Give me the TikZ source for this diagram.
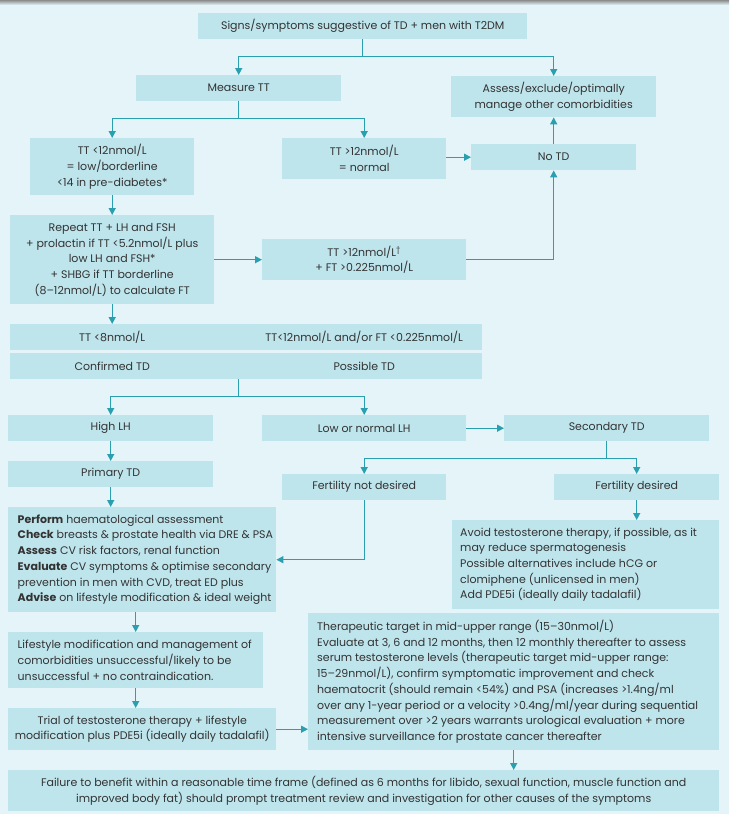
\documentclass[tikz,border=0pt]{standalone}
\usepackage{fontspec}
\setmainfont{Poppins}
\usetikzlibrary{arrows.meta,calc}
\definecolor{bgc}{HTML}{E4F4F8}
\definecolor{boxc}{HTML}{BEE4EC}
\definecolor{lnc}{HTML}{2A9FB0}
\definecolor{txtc}{HTML}{333333}
\newcommand{\bxfont}{\fontsize{11}{15.7}\selectfont}
\begin{document}
\begin{tikzpicture}[x=1pt,y=-1pt,
  box/.style={fill=boxc, draw=none, anchor=north west, inner sep=0pt, font=\bxfont, text=txtc, align=center},
  lt/.style={anchor=west, inner sep=0pt, font=\bxfont, text=txtc, align=left},
  ct/.style={inner sep=0pt, font=\bxfont, text=txtc, align=center},
  conn/.style={draw=lnc, line width=1.4pt},
  arr/.style={conn, -{Triangle[length=7pt,width=7pt]}}]
\useasboundingbox (0,0) rectangle (729,814);
\fill[bgc] (0,0) rectangle (729,814);
\shade[top color=black!45, bottom color=bgc] (0,0) rectangle (729,5);

% boxes
\node[box, minimum width=329, minimum height=26] (top) at (198,13) {Signs/symptoms suggestive of TD + men with T2DM};
\node[box, minimum width=205, minimum height=26] (measure) at (136,75) {Measure TT};
\node[box, minimum width=205, minimum height=41] (assess) at (451,76) {Assess/exclude/optimally\\manage other comorbidities};
\node[box, minimum width=164, minimum height=57] (tt12) at (30,138) {TT <12nmol/L\\= low/borderline\\<14 in pre-diabetes*};
\node[box, minimum width=164, minimum height=41] (ttnorm) at (282,138) {TT >12nmol/L\\= normal};
\node[box, minimum width=165, minimum height=26] (notd) at (471,144) {No TD};
\node[box, minimum width=204, minimum height=89] (repeat) at (10,215) {Repeat TT + LH and FSH\\+ prolactin if TT <5.2nmol/L plus\\low LH and FSH*\\+ SHBG if TT borderline\\(8–12nmol/L) to calculate FT};
\node[box, minimum width=204, minimum height=41] (ttdag) at (262,239) {TT >12nmol/L\textsuperscript{†}\\+ FT >0.225nmol/L};
\node[box, minimum width=472, minimum height=26] (bar1) at (10,324) {};
\node[box, minimum width=472, minimum height=26] (bar2) at (10,353) {};
\node[box, minimum width=205, minimum height=26] (highlh) at (8,415) {High LH};
\node[box, minimum width=204, minimum height=26] (lowlh) at (262,415) {Low or normal LH};
\node[box, minimum width=205, minimum height=26] (sec) at (504,415) {Secondary TD};
\node[box, minimum width=205, minimum height=26] (primary) at (8,461) {Primary TD};
\node[box, minimum width=164, minimum height=26] (fnd) at (282,474) {Fertility not desired};
\node[box, minimum width=165, minimum height=26] (fd) at (554,474) {Fertility desired};
\node[box, minimum width=268, minimum height=105] (perform) at (8,507) {};
\node[box, minimum width=267, minimum height=89] (avoid) at (452,520) {};
\node[box, minimum width=255, minimum height=56] (lifestyle) at (8,632) {};
\node[box, minimum width=268, minimum height=42] (trial) at (8,708) {Trial of testosterone therapy + lifestyle\\modification plus PDE5i (ideally daily tadalafil)};
\node[box, minimum width=411, minimum height=137] (thera) at (308,613) {};
\node[box, minimum width=711, minimum height=41] (failure) at (8,770) {Failure to benefit within a reasonable time frame (defined as 6 months for libido, sexual function, muscle function and\\improved body fat) should prompt treatment review and investigation for other causes of the symptoms};

% texts in bars
\node[ct] (t8) at (tt12.center |- bar1.center) {TT <8nmol/L};
\node[ct] (t12) at (ttnorm.center |- bar1.center) {TT<12nmol/L and/or FT <0.225nmol/L};
\node[ct] (tconf) at (tt12.center |- bar2.center) {Confirmed TD};
\node[ct] (tposs) at (ttnorm.center |- bar2.center) {Possible TD};

% left aligned texts
\node[lt] (performtxt) at ([xshift=9.5pt]perform.west) {\textbf{Perform} haematological assessment\\\textbf{Check} breasts \& prostate health via DRE \& PSA\\\textbf{Assess} CV risk factors, renal function\\\textbf{Evaluate} CV symptoms \& optimise secondary\\prevention in men with CVD, treat ED plus\\\textbf{Advise} on lifestyle modification \& ideal weight};
\node[lt] (avoidtxt) at ([xshift=8pt]avoid.west) {Avoid testosterone therapy, if possible, as it\\may reduce spermatogenesis\\Possible alternatives include hCG or\\clomiphene (unlicensed in men)\\Add PDE5i (ideally daily tadalafil)};
\node[lt] (lifetxt) at ([xshift=9.5pt]lifestyle.west) {Lifestyle modification and management of\\comorbidities unsuccessful/likely to be\\unsuccessful + no contraindication.};
\node[lt] (theratxt) at ([xshift=9pt]thera.west) {Therapeutic target in mid-upper range (15–30nmol/L)\\Evaluate at 3, 6 and 12 months, then 12 monthly thereafter to assess\\serum testosterone levels (therapeutic target mid-upper range:\\15–29nmol/L), confirm symptomatic improvement and check\\haematocrit (should remain <54\%) and PSA (increases >1.4ng/ml\\over any 1-year period or a velocity >0.4ng/ml/year during sequential\\measurement over >2 years warrants urological evaluation + more\\intensive surveillance for prostate cancer thereafter};

% connectors
\draw[conn] (top.south) -- ++(0,17) coordinate (j1);
\draw[arr] (j1) -| (measure.north);
\draw[arr] (j1) -| (assess.north);
\draw[conn] (measure.south) -- ++(0,17) coordinate (j2);
\draw[arr] (j2) -| (tt12.north);
\draw[arr] (j2) -| (ttnorm.north);
\draw[arr] (ttnorm.east |- notd.west) -- (notd.west);
\draw[arr] (notd.north) -- (assess.south);
\draw[arr] (tt12.south) -- (tt12.south |- repeat.north);
\draw[arr] (repeat.east) -- (repeat.east -| ttdag.west);
\draw[arr] (ttdag.east) -| (notd.south);
\draw[arr] (repeat.south) -- (repeat.south |- bar1.north);
\draw[conn] (measure.south |- bar2.south) -- ++(0,17) coordinate (j3);
\draw[arr] (j3) -| (highlh.north);
\draw[arr] (j3) -| (lowlh.north);
\draw[arr] (lowlh.east) -- (sec.west);
\draw[arr] (highlh.south) -- (primary.north);
\draw[conn] (sec.south) -- ++(0,17) coordinate (j4);
\draw[arr] (j4) -| (fnd.north);
\draw[arr] (j4) -| (fd.north);
\draw[arr] (primary.south) -- (primary.south |- perform.north);
\draw[arr] (fnd.south) |- (perform.east);
\draw[arr] (fd.south) -- (fd.south |- avoid.north);
\draw[arr] (lifestyle.north |- perform.south) -- (lifestyle.north);
\draw[arr] (lifestyle.south) -- (lifestyle.south |- trial.north);
\draw[arr] (trial.east) -- (trial.east -| thera.west);
\draw[arr] (thera.south) -- (thera.south |- failure.north);
\end{tikzpicture}
\end{document}
